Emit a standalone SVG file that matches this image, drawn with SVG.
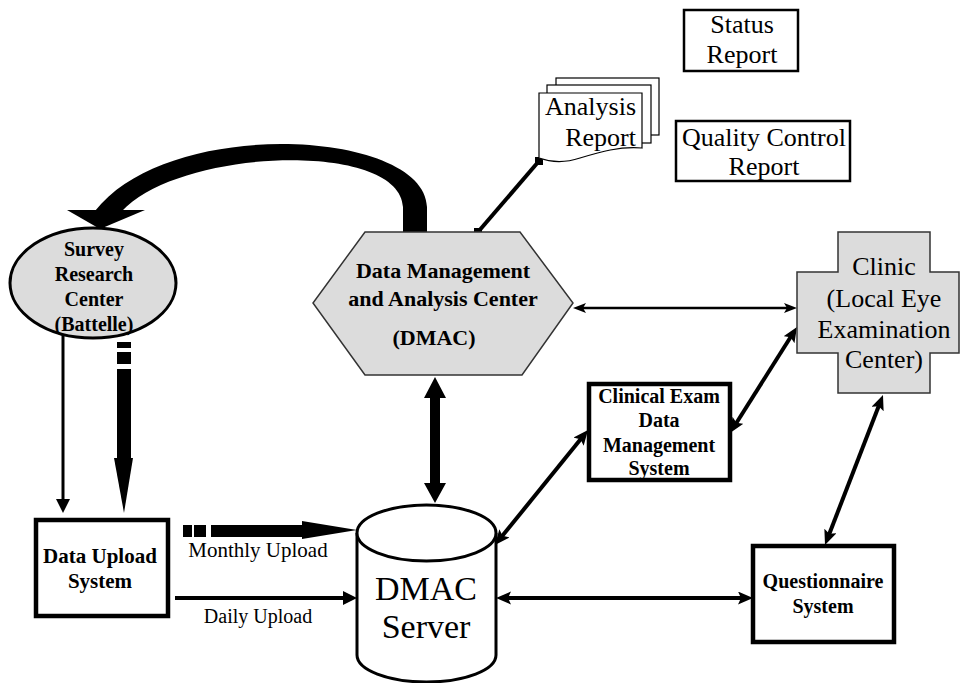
<svg xmlns="http://www.w3.org/2000/svg" width="961" height="683" viewBox="0 0 961 683">
<defs>
<style>
.t{font-family:"Liberation Serif","Times New Roman",serif;fill:#000;text-anchor:middle}
.b{font-weight:bold}
.box{fill:#fff;stroke:#000;stroke-width:4.5}
.thin{fill:#fff;stroke:#000;stroke-width:2.5}
.gray{fill:#dcdcdc;stroke:#333;stroke-width:1.5}
.ln{stroke:#000;stroke-width:4;fill:none}
.ln2{stroke:#000;stroke-width:2.5;fill:none}
</style>
<marker id="ah" markerUnits="userSpaceOnUse" markerWidth="16" markerHeight="14" refX="7" refY="6.5" orient="auto-start-reverse">
<path d="M0,0 L15,6.5 L0,13 L3,6.5 Z" fill="#000"/>
</marker>
<marker id="ahs" markerUnits="userSpaceOnUse" markerWidth="14" markerHeight="12" refX="7" refY="5" orient="auto-start-reverse">
<path d="M0,0 L13,5 L0,10 L3,5 Z" fill="#000"/>
</marker>
</defs>
<rect width="961" height="683" fill="#fff"/>
<g id="connectors">
<path d="M427 232 L427 207 C425 130 170 115 95 211 L122 211 C180 148 400 140 403 207 L403 232 Z" fill="#000"/>
<polygon points="67,210 145,210 100,229" fill="#000"/>
<line x1="539" y1="161" x2="478" y2="232" class="ln"/>
<rect x="535" y="157" width="8" height="8" fill="#000"/>
<rect x="474" y="228" width="8" height="8" fill="#000"/>
<line x1="63" y1="333" x2="63" y2="500" stroke="#000" stroke-width="3"/>
<polygon points="56,499 70,499 63,513" fill="#000"/>
<rect x="117" y="342" width="14" height="6" fill="#000"/>
<rect x="117" y="352" width="14" height="12" fill="#000"/>
<rect x="117" y="369" width="14" height="90" fill="#000"/>
<polygon points="114,458 133,458 124,513" fill="#000"/>
<rect x="183" y="525" width="9" height="12" fill="#000"/>
<rect x="194" y="525" width="12" height="12" fill="#000"/>
<rect x="211" y="525" width="92" height="12" fill="#000"/>
<polygon points="302,521 302,539 357,530" fill="#000"/>
<line x1="175" y1="598" x2="344" y2="598" class="ln"/>
<polygon points="343,591 343,605 357,598" fill="#000"/>
<polygon points="435,377 446,398 440,398 440,483 446,483 435,503 424,483 430,483 430,398 424,398" fill="#000"/>
<line x1="579" y1="308" x2="791" y2="308" class="ln2" marker-start="url(#ahs)" marker-end="url(#ahs)"/>
<line x1="500" y1="538.8" x2="583" y2="436.2" class="ln" marker-start="url(#ah)" marker-end="url(#ah)"/>
<line x1="734.3" y1="426.2" x2="792.7" y2="333.8" class="ln" marker-start="url(#ah)" marker-end="url(#ah)"/>
<line x1="880.1" y1="402.5" x2="827.9" y2="537.5" class="ln" marker-start="url(#ah)" marker-end="url(#ah)"/>
<line x1="504" y1="598" x2="745" y2="598" class="ln" marker-start="url(#ah)" marker-end="url(#ah)"/>
</g>
<g id="status-report">
<rect x="684" y="10" width="114" height="61" class="thin" stroke-width="3"/>
<text class="t" x="742" y="33" font-size="26">Status</text>
<text class="t" x="742" y="63" font-size="26">Report</text>
</g>
<g id="qc-report">
<rect x="676" y="121" width="174" height="60" class="thin" stroke-width="3"/>
<text class="t" x="764" y="146" font-size="26">Quality Control</text>
<text class="t" x="764" y="175" font-size="26">Report</text>
</g>
<g id="analysis-report">
<rect x="556" y="78" width="103" height="57" fill="#fff" stroke="#000" stroke-width="1.2"/>
<rect x="547" y="85" width="104" height="58" fill="#fff" stroke="#000" stroke-width="1.2"/>
<path d="M539 93 H642 V148 C620 146 600 152 580 158 C565 163 550 162 539 158 Z" fill="#fff" stroke="#000" stroke-width="1.2"/>
<text class="t" x="636" y="115" font-size="26" text-anchor="end" style="text-anchor:end">Analysis</text>
<text class="t" x="636" y="146" font-size="26" style="text-anchor:end">Report</text>
</g>
<g id="survey">
<ellipse cx="93" cy="283" rx="83" ry="55" fill="#dcdcdc" stroke="#000" stroke-width="3"/>
<text class="t b" x="94" y="256" font-size="20">Survey</text>
<text class="t b" x="94" y="281" font-size="20">Research</text>
<text class="t b" x="94" y="306" font-size="20">Center</text>
<text class="t b" x="94" y="331" font-size="20">(Battelle)</text>
</g>
<g id="dmac">
<polygon points="365,232 520,232 573,303 522,375 365,375 313,303" class="gray"/>
<text class="t b" x="443" y="278" font-size="22">Data Management</text>
<text class="t b" x="443" y="306" font-size="22">and Analysis Center</text>
<text class="t b" x="434" y="345" font-size="22">(DMAC)</text>
</g>
<g id="clinic">
<polygon points="838,232 930,232 930,272 959,272 959,353 930,353 930,393 838,393 838,353 797,353 797,272 838,272" class="gray"/>
<text class="t" x="884" y="275" font-size="26">Clinic</text>
<text class="t" x="884" y="307" font-size="26">(Local Eye</text>
<text class="t" x="884" y="338" font-size="26">Examination</text>
<text class="t" x="884" y="368" font-size="26">Center)</text>
</g>
<g id="clinical-exam">
<rect x="589" y="384" width="141" height="96" class="box"/>
<text class="t b" x="659" y="403" font-size="20">Clinical Exam</text>
<text class="t b" x="659" y="427" font-size="20">Data</text>
<text class="t b" x="659" y="452" font-size="20">Management</text>
<text class="t b" x="659" y="475" font-size="20">System</text>
</g>
<g id="data-upload">
<rect x="36" y="520" width="132" height="96" class="box"/>
<text class="t b" x="100" y="563" font-size="21">Data Upload</text>
<text class="t b" x="100" y="588" font-size="21">System</text>
</g>
<g id="dmac-server">
<path d="M357 533 V655 A69.5 27 0 0 0 496 655 V533" fill="#fff" stroke="#000" stroke-width="3"/>
<ellipse cx="426.5" cy="533" rx="69.5" ry="28" fill="#fff" stroke="#000" stroke-width="3"/>
<text class="t" x="426" y="600" font-size="34">DMAC</text>
<text class="t" x="426" y="638" font-size="34">Server</text>
</g>
<g id="questionnaire">
<rect x="753" y="546" width="141" height="96" class="box"/>
<text class="t b" x="823" y="588" font-size="20">Questionnaire</text>
<text class="t b" x="823" y="613" font-size="20">System</text>
</g>
<g id="labels">
<text class="t" x="258" y="557" font-size="21">Monthly Upload</text>
<text class="t" x="258" y="623" font-size="20">Daily Upload</text>
</g>
</svg>
